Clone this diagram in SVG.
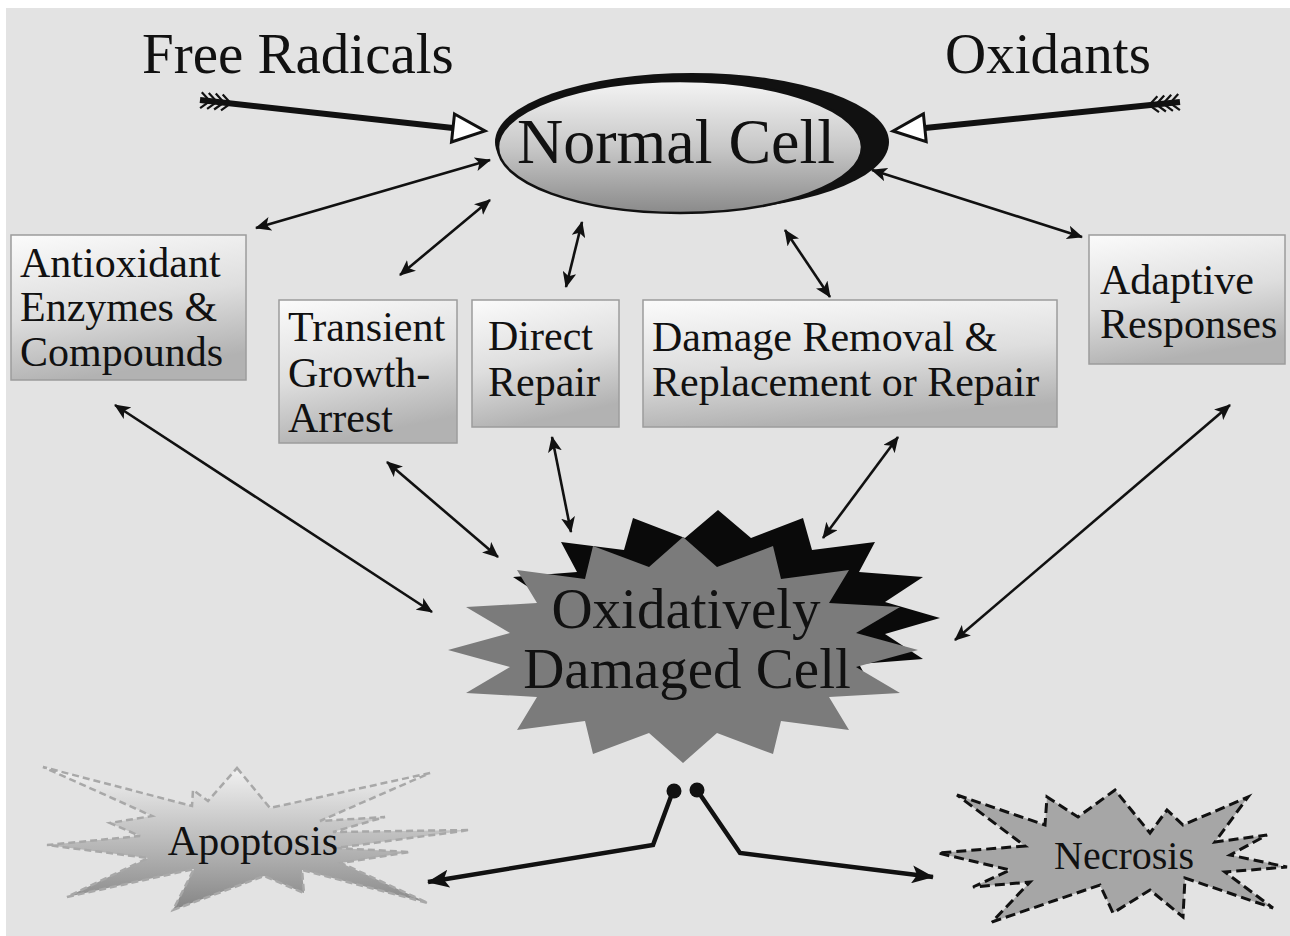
<svg xmlns="http://www.w3.org/2000/svg" width="1290" height="936" viewBox="0 0 1290 936">
<style>
  text { font-family: "Liberation Serif", "Times New Roman", serif; fill: #111; }
  .box { fill: url(#boxGrad); stroke: #9c9c9c; stroke-width: 1.5; }
  .lbl { font-size: 42px; }
  .thin { stroke: #111; stroke-width: 2.6; fill: none; marker-start: url(#ah); marker-end: url(#ah); }
  .thick { stroke: #111; stroke-width: 4.5; fill: none; stroke-linejoin: miter; marker-end: url(#ahBig); }
  .shaft { stroke: #111; stroke-width: 6; fill: none; }
  .fletch { stroke: #111; stroke-width: 2.2; fill: none; }
  .hollow { fill: #fff; stroke: #111; stroke-width: 3; stroke-linejoin: miter; }
</style>
<defs>
  <linearGradient id="boxGrad" x1="0" y1="0" x2="0.25" y2="1">
    <stop offset="0" stop-color="#fbfbfb"/>
    <stop offset="0.55" stop-color="#dedede"/>
    <stop offset="1" stop-color="#b2b2b2"/>
  </linearGradient>
  <linearGradient id="ellGrad" x1="0" y1="0" x2="0" y2="1">
    <stop offset="0" stop-color="#f4f4f4"/>
    <stop offset="0.5" stop-color="#c8c8c8"/>
    <stop offset="1" stop-color="#8a8a8a"/>
  </linearGradient>
  <linearGradient id="apoGrad" x1="0" y1="0" x2="0" y2="1">
    <stop offset="0" stop-color="#f2f2f2"/>
    <stop offset="0.5" stop-color="#bdbdbd"/>
    <stop offset="1" stop-color="#858585"/>
  </linearGradient>
  <marker id="ah" markerUnits="userSpaceOnUse" viewBox="0 0 16 14" refX="15" refY="7" markerWidth="16" markerHeight="14" orient="auto-start-reverse">
    <path d="M0,0 L16,7 L0,14 L4,7 z" fill="#111"/>
  </marker>
  <marker id="ahBig" markerUnits="userSpaceOnUse" viewBox="0 0 22 18" refX="21" refY="9" markerWidth="22" markerHeight="18" orient="auto">
    <path d="M0,0 L22,9 L0,18 L5,9 z" fill="#111"/>
  </marker>
</defs>

<rect x="0" y="0" width="1290" height="936" fill="#ffffff"/>
<rect x="6" y="8" width="1284" height="928" fill="#e3e3e3"/>

<g id="free-radicals">
  <text x="142" y="73" font-size="57">Free Radicals</text>
</g>
<g id="oxidants">
  <text x="945" y="73" font-size="57">Oxidants</text>
</g>

<g id="normal-cell">
  <ellipse cx="692" cy="142" rx="197" ry="69" fill="#111"/>
  <ellipse cx="680" cy="147" rx="182" ry="66" fill="url(#ellGrad)" stroke="#111" stroke-width="2.5"/>
  <text x="676" y="163" font-size="64" text-anchor="middle">Normal Cell</text>
</g>

<g id="antioxidant">
  <rect class="box" x="11" y="235" width="235" height="145"/>
  <text class="lbl" x="20" y="277">Antioxidant</text>
  <text class="lbl" x="20" y="321">Enzymes &amp;</text>
  <text class="lbl" x="20" y="366">Compounds</text>
</g>
<g id="transient">
  <rect class="box" x="279" y="300" width="178" height="143"/>
  <text class="lbl" x="288" y="341">Transient</text>
  <text class="lbl" x="288" y="387">Growth-</text>
  <text class="lbl" x="288" y="432">Arrest</text>
</g>
<g id="direct-repair">
  <rect class="box" x="472" y="300" width="147" height="127"/>
  <text class="lbl" x="488" y="350">Direct</text>
  <text class="lbl" x="488" y="396">Repair</text>
</g>
<g id="damage-removal">
  <rect class="box" x="643" y="300" width="414" height="127"/>
  <text class="lbl" x="652" y="351">Damage Removal &amp;</text>
  <text class="lbl" x="652" y="396">Replacement or Repair</text>
</g>
<g id="adaptive">
  <rect class="box" x="1089" y="235" width="196" height="129"/>
  <text class="lbl" x="1100" y="294">Adaptive</text>
  <text class="lbl" x="1100" y="338">Responses</text>
</g>

<g id="damaged-cell">
  <polygon fill="#0a0a0a" points="718,510 751,538 803,518 812,550 875,542 859,572 923,577 885,602 940,618 885,634 923,659 859,664 875,694 812,686 803,718 751,698 718,726 685,698 633,718 624,686 561,694 577,664 513,659 551,634 496,618 551,602 513,577 577,572 561,542 624,550 633,518 685,538"/>
  <polygon fill="#7b7b7b" points="683,537 717,567 773,546 781,579 849,570 829,603 900,607 856,633 918,650 856,667 900,693 829,697 849,730 781,721 773,754 717,733 683,763 649,733 593,754 585,721 517,730 537,697 466,693 510,667 448,650 510,633 466,607 537,603 517,570 585,579 593,546 649,567"/>
  <text x="686" y="628" font-size="57" text-anchor="middle">Oxidatively</text>
  <text x="687" y="688" font-size="57" text-anchor="middle">Damaged Cell</text>
</g>

<g id="apoptosis">
  <polygon fill="url(#apoGrad)" stroke="#a8a8a8" stroke-width="2.5" stroke-dasharray="7 4" points="237,768 270,808 430,773 320,821 385,817 333,832 470,830 336,848 410,852 341,863 428,903 302,870 304,893 264,876 173,910 194,869 67,897 148,858 47,845 140,836 110,823 152,816 43,767 192,806 193,790 208,801"/>
  <text x="253" y="855" font-size="42" text-anchor="middle">Apoptosis</text>
</g>

<g id="necrosis">
  <polygon fill="#a6a6a6" stroke="#111" stroke-width="3" stroke-dasharray="10 5" points="957,795 1045,825 1047,797 1078,817 1115,790 1150,833 1167,810 1183,825 1248,797 1215,842 1267,835 1230,855 1287,867 1225,872 1273,908 1185,878 1183,917 1150,890 1113,913 1100,885 992,922 1030,882 973,887 1010,870 938,853 1025,846"/>
  <text x="1124" y="869" font-size="40" text-anchor="middle">Necrosis</text>
</g>

<g id="connectors">
  <!-- input arrows -->
  <line class="shaft" x1="200" y1="100" x2="453" y2="128"/>
  <path class="fletch" d="M201.8,92.2 L209.9,101.1 L200.1,108.1 M208.8,92.9 L216.9,101.8 L207.1,108.8 M215.8,93.6 L223.9,102.5 L214.1,109.5 M222.7,94.4 L230.8,103.3 L221.0,110.3"/>
  <polygon class="hollow" points="454.5,114 485,131 451.5,142"/>

  <line class="shaft" x1="1180" y1="102" x2="925" y2="128"/>
  <path class="fletch" d="M1178.2,94.1 L1170.1,103.0 L1179.9,110.1 M1171.2,94.8 L1163.1,103.7 L1172.9,110.8 M1164.2,95.5 L1156.1,104.4 L1165.9,111.5 M1157.4,96.2 L1149.2,105.1 L1159.0,112.2"/>
  <polygon class="hollow" points="923.4,113.9 893,131 926.2,141.7"/>

  <!-- normal cell to responses -->
  <line class="thin" x1="490" y1="160" x2="256" y2="228"/>
  <line class="thin" x1="490" y1="200" x2="400" y2="275"/>
  <line class="thin" x1="582" y1="222" x2="566" y2="287"/>
  <line class="thin" x1="785" y1="230" x2="830" y2="297"/>
  <line class="thin" x1="872" y1="170" x2="1082" y2="237"/>

  <!-- responses to damaged cell -->
  <line class="thin" x1="115" y1="405" x2="432" y2="612"/>
  <line class="thin" x1="387" y1="462" x2="498" y2="557"/>
  <line class="thin" x1="552" y1="437" x2="571" y2="532"/>
  <line class="thin" x1="898" y1="437" x2="823" y2="538"/>
  <line class="thin" x1="1230" y1="405" x2="955" y2="640"/>

  <!-- fate connectors -->
  <circle cx="674" cy="791" r="7.5" fill="#111"/>
  <circle cx="697" cy="790" r="7.5" fill="#111"/>
  <path class="thick" d="M673,791 L653,845 L428,882"/>
  <path class="thick" d="M697,790 L740,853 L933,877"/>
</g>
</svg>
